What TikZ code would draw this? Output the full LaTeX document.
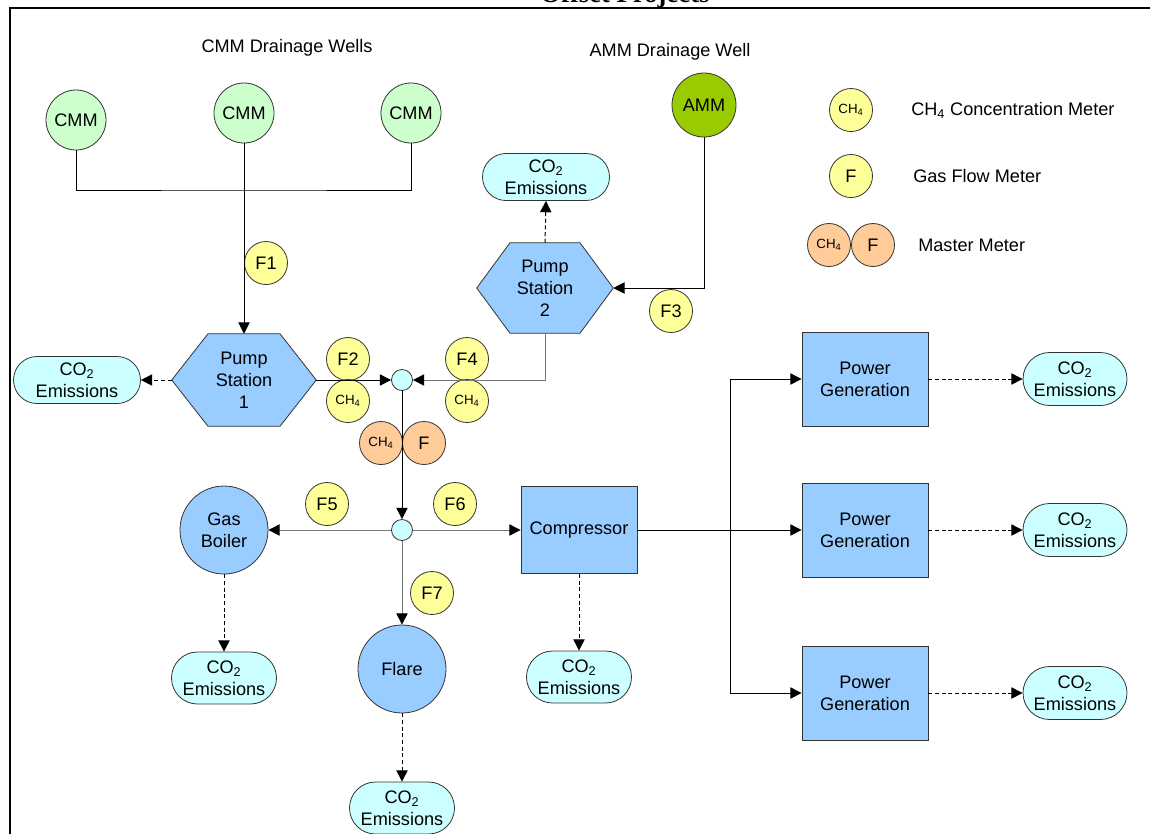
\documentclass[tikz,border=0pt]{standalone}
\usepackage{fontspec}
\setmainfont{Liberation Sans}
\newfontfamily\titleserif{Liberation Serif}
\usetikzlibrary{shapes.misc,arrows.meta,calc,backgrounds}
\definecolor{cmmgreen}{HTML}{CCFFCC}
\definecolor{ammgreen}{HTML}{99CC00}
\definecolor{meteryellow}{HTML}{FFFF99}
\definecolor{masterorange}{HTML}{FFCC99}
\definecolor{procblue}{HTML}{99CCFF}
\definecolor{co2cyan}{HTML}{CCFFFF}
\definecolor{edgegray}{HTML}{333333}
\definecolor{linegray}{HTML}{777777}
\begin{document}
\begin{tikzpicture}[x=0.75pt,y=-0.75pt,
  font=\fontsize{13.6}{16.5}\selectfont,
  every node/.style={align=center, inner sep=0pt},
  shapeline/.style={draw=edgegray, line width=0.6pt},
  wellc/.style={circle, shapeline, fill=cmmgreen, minimum size=45pt},
  ammc/.style={circle, shapeline, fill=ammgreen, minimum size=48pt},
  meter/.style={circle, shapeline, fill=meteryellow, minimum size=32.25pt},
  mmeter/.style={circle, shapeline, fill=masterorange, minimum size=32.25pt},
  smallfont/.style={font=\fontsize{10}{12}\selectfont},
  junc/.style={circle, shapeline, fill=co2cyan, minimum size=15.75pt},
  bigc/.style={circle, shapeline, fill=procblue, minimum size=66pt},
  procbox/.style={rectangle, shapeline, fill=procblue},
  co2/.style={rounded rectangle, shapeline, fill=co2cyan, minimum width=78.75pt, minimum height=39pt},
  co2w/.style={rounded rectangle, shapeline, fill=co2cyan, minimum width=95.25pt, minimum height=35.25pt},
  hexlabel/.style={rectangle},
  hexshape/.style={shapeline, fill=procblue},
  conn/.style={draw=black, line width=0.75pt},
  flow/.style={conn, -{Triangle[length=8.5pt,width=8.5pt,color=black]}},
  flowg/.style={flow, draw=linegray},
  emit/.style={flow, dash pattern=on 3pt off 2pt}
]
\clip (0,0) rectangle (1150,833);
\useasboundingbox (0,0) rectangle (1150,833);

% frame and cut-off title
\node[anchor=base, font=\titleserif\bfseries\fontsize{20}{22}\selectfont] (title) at (625,2) {Offset Projects};
\coordinate (fr1) at (10,840);
\coordinate (fr2) at (10,8);
\coordinate (fr3) at (1160,8);
\draw[line width=1.5pt] (fr1) -- (fr2) -- (fr3);

% headings
\node (cmmhead) at (287,48) {CMM Drainage Wells};
\node (ammhead) at (670,52) {AMM Drainage Well};

% wells
\node[wellc] (cmm1) at (76,120) {CMM};
\node[wellc] (cmm2) at (244,113) {CMM};
\node[wellc] (cmm3) at (411,113) {CMM};
\node[ammc] (amm) at (704,105) {AMM};

% legend
\node[meter, smallfont] (lgch4) at (851,110) {CH\textsubscript{4}};
\node[anchor=west] (lgch4t) at (911,110) {CH\textsubscript{4} Concentration Meter};
\node[meter] (lgf) at (851,176) {F};
\node[anchor=west] (lgft) at (913,176) {Gas Flow Meter};
\node[mmeter, smallfont] (lgm1) at (829,245) {CH\textsubscript{4}};
\node[mmeter] (lgm2) at (873,245) {F};
\node[anchor=west] (lgmt) at (918,245) {Master Meter};

% pump stations
\node[hexlabel, minimum width=108pt, minimum height=69pt] (ps1) at (244,380) {Pump\\Station\\1};
\node[hexlabel, minimum width=102pt, minimum height=67.5pt] (ps2) at (545,288) {Pump\\Station\\2};
\begin{scope}[on background layer]
\filldraw[hexshape] (ps1.west) -- ($(ps1.north)+(-36,0)$) -- ($(ps1.north)+(36,0)$) -- (ps1.east)
  -- ($(ps1.south)+(36,0)$) -- ($(ps1.south)+(-36,0)$) -- cycle;
\filldraw[hexshape] (ps2.west) -- ($(ps2.north)+(-35,0)$) -- ($(ps2.north)+(35,0)$) -- (ps2.east)
  -- ($(ps2.south)+(35,0)$) -- ($(ps2.south)+(-35,0)$) -- cycle;
\end{scope}

% junctions
\node[junc] (j1) at (402,380) {};
\node[junc] (j2) at (402,530) {};

% processes
\node[bigc] (boiler) at (224,530) {Gas\\Boiler};
\node[bigc] (flare) at (402,669) {Flare};
\node[procbox, minimum width=87pt, minimum height=65.25pt] (comp) at (579,530) {Compressor};
\node[procbox, minimum width=94.5pt, minimum height=70.5pt] (pg1) at (865,379) {Power\\Generation};
\node[procbox, minimum width=94.5pt, minimum height=70.5pt] (pg2) at (865,530) {Power\\Generation};
\node[procbox, minimum width=94.5pt, minimum height=70.5pt] (pg3) at (865,693) {Power\\Generation};

% emissions
\node[co2w] (e1) at (77,380) {CO\textsubscript{2}\\Emissions};
\node[co2w] (e2) at (546,177) {CO\textsubscript{2}\\Emissions};
\node[co2] (e3) at (224,678) {CO\textsubscript{2}\\Emissions};
\node[co2] (e4) at (579,677) {CO\textsubscript{2}\\Emissions};
\node[co2] (e5) at (402,808) {CO\textsubscript{2}\\Emissions};
\node[co2, minimum width=78pt, minimum height=39.75pt] (e6) at (1075,379) {CO\textsubscript{2}\\Emissions};
\node[co2, minimum width=78pt, minimum height=39.75pt] (e7) at (1075,530) {CO\textsubscript{2}\\Emissions};
\node[co2, minimum width=78pt, minimum height=39.75pt] (e8) at (1075,693) {CO\textsubscript{2}\\Emissions};

% meters on lines (drawn below the connectors)
\node[meter] (f1) at (266,263) {F1};
\node[meter] (f2) at (348,359) {F2};
\node[meter, smallfont] (c2) at (348,401) {CH\textsubscript{4}};
\node[meter] (f4) at (467,359) {F4};
\node[meter, smallfont] (c4) at (467,401) {CH\textsubscript{4}};
\node[meter] (f3) at (671,311) {F3};
\node[mmeter, smallfont] (mm1) at (381,443) {CH\textsubscript{4}};
\node[mmeter] (mm2) at (424,443) {F};
\node[meter] (f5) at (327,504) {F5};
\node[meter] (f6) at (455,504) {F6};
\node[meter] (f7) at (432,593) {F7};

% connectors
\coordinate (bus) at (244,190);
\draw[conn] (cmm1.south) |- (bus) -| (cmm3.south);
\draw[flow] (cmm2.south) -- (ps1.north);
\draw[flow] (amm.south) |- (ps2.east);
\draw[flowg] (ps2.south) |- (j1.east);
\draw[flow] (ps1.east) -- (j1.west);
\draw[flow] (j1.south) -- (j2.north);
\draw[flowg] (j2.west) -- (boiler.east);
\draw[flowg] (j2.east) -- (comp.west);
\draw[flowg] (j2.south) -- (flare.north);
\draw[flow] (comp.east) -- (pg2.west);
\coordinate (br) at (730,530);
\draw[flow] (br) |- (pg1.west);
\draw[flow] (br) |- (pg3.west);

\draw[emit] (ps1.west) -- (e1.east);
\draw[emit] (ps2.north) -- (e2.south);
\draw[emit] (boiler.south) -- (e3.north);
\draw[emit] (comp.south) -- (e4.north);
\draw[emit] (flare.south) -- (e5.north);
\draw[emit] (pg1.east) -- (e6.west);
\draw[emit] (pg2.east) -- (e7.west);
\draw[emit] (pg3.east) -- (e8.west);
\end{tikzpicture}
\end{document}
